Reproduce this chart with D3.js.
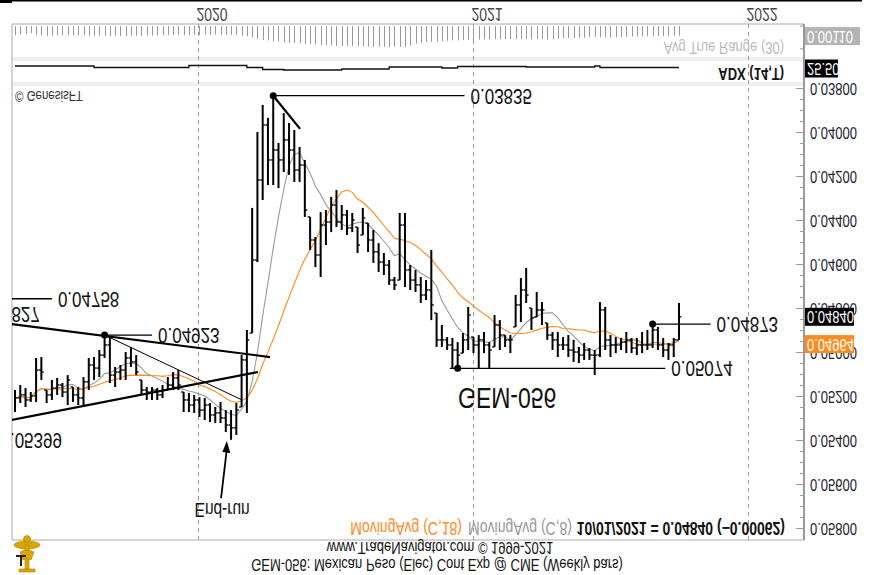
<!DOCTYPE html>
<html>
<head>
<meta charset="utf-8">
<script src="https://cdn.jsdelivr.net/npm/d3@7"></script>
<style>
  body { margin: 0; background: #fff; }
  svg { display: block; }
  text { font-family: "Liberation Sans", Arial, sans-serif; }
</style>
</head>
<body>
<svg id="chart" width="888" height="575"></svg>
<script>
// weekly bars, first bar dated Friday 2019-05-03
const firstWeek = new Date(2019, 4, 3).getTime();

// price axis is inverted (0.038 at top), picture is mirrored vertically
const low = [
  0.05173,0.05150,0.05164,0.05182,0.05027,0.05023,0.05173,0.05127,0.05118,0.05141,
  0.05105,0.05159,0.05159,0.05114,0.05027,0.05023,0.04991,0.04923,0.04936,0.05068,
  0.05059,0.05000,0.04977,0.05014,0.05127,0.05159,0.05159,0.05164,0.05150,0.05114,
  0.05091,0.05082,0.05182,0.05186,0.05195,0.05205,0.05209,0.05232,0.05250,0.05227,
  0.05264,0.05264,0.05232,0.05014,0.04900,0.04345,0.04000,0.03877,0.03936,0.03835,
  0.04050,0.03914,0.03959,0.03991,0.04068,0.04127,0.04386,0.04477,0.04364,0.04355,
  0.04295,0.04264,0.04332,0.04355,0.04368,0.04432,0.04345,0.04414,0.04445,0.04505,
  0.04550,0.04582,0.04659,0.04368,0.04368,0.04605,0.04627,0.04659,0.04673,0.04536,
  0.04823,0.04877,0.04932,0.04936,0.04955,0.04914,0.04795,0.04932,0.04923,0.04909,
  0.04955,0.04832,0.04855,0.04923,0.04923,0.04741,0.04664,0.04618,0.04800,0.04727,
  0.04773,0.04868,0.04909,0.04909,0.04932,0.04923,0.04945,0.04977,0.04959,0.04982,
  0.04991,0.04773,0.04795,0.04923,0.04932,0.04936,0.04909,0.04936,0.04936,0.04909,
  0.04900,0.04873,0.04886,0.04936,0.04959,0.04936,0.04777
];
const high = [
  0.05273,0.05232,0.05250,0.05227,0.05227,0.05127,0.05232,0.05218,0.05195,0.05205,
  0.05241,0.05227,0.05241,0.05241,0.05173,0.05127,0.05114,0.05027,0.05141,0.05159,
  0.05127,0.05127,0.05068,0.05105,0.05195,0.05218,0.05218,0.05218,0.05209,0.05173,
  0.05173,0.05173,0.05273,0.05273,0.05277,0.05295,0.05309,0.05318,0.05323,0.05323,
  0.05364,0.05399,0.05377,0.05250,0.05277,0.04914,0.04591,0.04309,0.04241,0.04241,
  0.04255,0.04182,0.04195,0.04227,0.04227,0.04386,0.04536,0.04614,0.04659,0.04514,
  0.04455,0.04432,0.04445,0.04468,0.04455,0.04550,0.04468,0.04545,0.04595,0.04636,
  0.04650,0.04695,0.04718,0.04673,0.04705,0.04718,0.04727,0.04777,0.04764,0.04855,
  0.04977,0.04977,0.04991,0.05074,0.05074,0.05005,0.04991,0.05005,0.05074,0.05005,
  0.05074,0.04977,0.04991,0.04977,0.05005,0.04886,0.04864,0.04777,0.04900,0.04841,
  0.04877,0.04945,0.04991,0.05023,0.04991,0.05023,0.05045,0.05050,0.05036,0.05036,
  0.05105,0.05023,0.04991,0.05023,0.05005,0.04991,0.05005,0.05005,0.05014,0.05005,
  0.04991,0.04982,0.04991,0.05023,0.05036,0.05023,0.04945
];
const close = [
  0.05209,0.05195,0.05218,0.05200,0.05082,0.05091,0.05195,0.05164,0.05150,0.05182,
  0.05127,0.05195,0.05209,0.05136,0.05059,0.05073,0.05014,0.04968,0.05105,0.05091,
  0.05082,0.05027,0.05045,0.05091,0.05173,0.05182,0.05173,0.05195,0.05173,0.05150,
  0.05118,0.05150,0.05218,0.05241,0.05218,0.05264,0.05241,0.05286,0.05277,0.05300,
  0.05332,0.05345,0.05264,0.05036,0.04945,0.04582,0.04218,0.03968,0.04127,0.04082,
  0.04127,0.04036,0.04082,0.04173,0.04150,0.04355,0.04491,0.04559,0.04423,0.04409,
  0.04332,0.04409,0.04377,0.04436,0.04400,0.04514,0.04391,0.04491,0.04545,0.04591,
  0.04605,0.04673,0.04695,0.04423,0.04627,0.04673,0.04695,0.04741,0.04718,0.04786,
  0.04945,0.04945,0.04968,0.04991,0.05014,0.04945,0.04832,0.04968,0.04945,0.04968,
  0.04991,0.04877,0.04923,0.04945,0.04945,0.04786,0.04718,0.04741,0.04845,0.04809,
  0.04809,0.04923,0.04945,0.04968,0.04968,0.04991,0.05000,0.05014,0.04991,0.05014,
  0.05014,0.04809,0.04945,0.04968,0.04968,0.04955,0.04945,0.04982,0.04968,0.04968,
  0.04968,0.04900,0.04968,0.04991,0.04968,0.04945,0.04840
];

const priceTicks = [0.038, 0.040, 0.042, 0.044, 0.046, 0.048, 0.050, 0.052, 0.054, 0.056, 0.058];
const yearTicks = [2020, 2021, 2022];

// ADX(14,T) as flat steps: week where each level starts, and level
const adxStart = [0, 15, 33, 44, 47, 51, 62, 71, 81, 84, 97, 110, 111, 126];
const adxValue = [23, 24.5, 22.5, 24.5, 26.5, 27, 26, 24, 25, 23.5, 24, 23, 24.5, 24.5];

const lastDate = "10/01/2021";
const lastChange = -0.00062;
const lastMa18 = 0.04964;
const lastAtr = 0.00110;
const lastAdx = 25.50;

// labelled price levels (week index, price)
const levels = [
  { from: -1, to: 7, dot: null, price: 0.04758 },
  { from: 17, to: 26, dot: 17, price: 0.04923 },
  { from: 49, to: 85.3, dot: 49, price: 0.03835 },
  { from: 82.5, to: 123.4, dot: 84, price: 0.05074 },
  { from: 121, to: 132, dot: 121, price: 0.04873 }
];
// labels whose line starts off the left edge
const edgeLabels = [
  { week: 4.7, price: 0.04827 },
  { week: 8.9, price: 0.05399 }
];
const trendLines = [
  { w1: -0.6, p1: 0.04873, w2: 48.4, p2: 0.05023, width: 2.2 },
  { w1: -0.6, p1: 0.05309, w2: 46.1, p2: 0.05091, width: 2.2 },
  { w1: 17, p1: 0.04923, w2: 43.1, p2: 0.05218, width: 1 },
  { w1: 49, p1: 0.03835, w2: 54.1, p2: 0.03986, width: 2.2 }
];
const arrow = { w1: 39.1, p1: 0.05664, w2: 40.2, p2: 0.05405 };

const stretch = 1.25;
const svg = d3.select("#chart");
const frame = { left: 12, right: 804, top: 24, bottom: 540 };

const weekDate = i => new Date(firstWeek + i * 7 * 86400000);
const x = d3.scaleTime().domain([weekDate(0), weekDate(126)]).range([15, 679]);
const xw = i => x(weekDate(i));
const y = d3.scaleLinear().domain([0.038, 0.058]).range([88, 528]);
const atrY = d3.scaleLinear().domain([0, 0.0035]).range([26, 58]);
const adxY = d3.scaleLinear().domain([20, 40]).range([63, 83]);
const fmt = d3.format(".5f");

function label(sel, px, py, str, size, anchor, fill, weight) {
  return sel.append("text")
    .attr("transform", `translate(${px},${py}) scale(1,${-stretch})`)
    .attr("text-anchor", anchor || "start")
    .attr("dominant-baseline", "central")
    .attr("font-size", size)
    .attr("fill", fill || "#111")
    .attr("font-weight", weight || "normal")
    .text(str);
}

// top black rule
svg.append("rect").attr("x", 0).attr("y", 0).attr("width", 862).attr("height", 1.5).attr("fill", "#000");
svg.append("rect").attr("x", 0).attr("y", 0).attr("width", 12).attr("height", 3).attr("fill", "#000");

// panel separators
svg.append("rect").attr("x", frame.left).attr("y", 57).attr("width", frame.right - frame.left).attr("height", 4).attr("fill", "#f0f0f0");
svg.append("rect").attr("x", frame.left).attr("y", 82).attr("width", frame.right - frame.left).attr("height", 4).attr("fill", "#f0f0f0");

// year grid
yearTicks.forEach(yr => {
  const gx = Math.round(x(new Date(yr, 0, 1))) + 0.5;
  svg.append("line").attr("x1", gx).attr("x2", gx).attr("y1", frame.top).attr("y2", frame.bottom)
    .attr("stroke", "#999").attr("stroke-dasharray", "4,4");
  label(svg, gx - 2, 14, String(yr), 14, "start", "#444");
});

// frame
svg.append("path")
  .attr("d", `M${frame.right},${frame.top}H${frame.left}V${frame.bottom}H${frame.right}`)
  .attr("fill", "none").attr("stroke", "#aaa");
svg.append("line").attr("x1", frame.right).attr("x2", frame.right).attr("y1", frame.top).attr("y2", frame.bottom)
  .attr("stroke", "#999").attr("stroke-width", 2);

// ATR(30) histogram
const trueRange = close.map((c, i) => {
  const pc = i ? close[i - 1] : c;
  return Math.max(high[i], pc) - Math.min(low[i], pc);
});
const atr = trueRange.map((_, i) => d3.mean(trueRange.slice(Math.max(0, i - 29), i + 1)));
svg.append("g").selectAll("line").data(atr).join("line")
  .attr("x1", (d, i) => Math.round(xw(i)) + 0.5).attr("x2", (d, i) => Math.round(xw(i)) + 0.5)
  .attr("y1", atrY(0)).attr("y2", d => atrY(d))
  .attr("stroke", "#999").attr("stroke-width", 1);
label(svg, 784, 48, "Avg True Range (30)", 13, "end", "#bbb");

// ADX line
const adxPts = adxStart.map((w, i) => [w, adxValue[i]]);
svg.append("path").datum(adxPts)
  .attr("d", d3.line().x(d => xw(d[0])).y(d => adxY(d[1])).curve(d3.curveStepAfter))
  .attr("fill", "none").attr("stroke", "#111").attr("stroke-width", 1.3);
label(svg, 784, 74, "ADX (14,T)", 13, "end", "#111", "bold");

// right axis
const axis = svg.append("g").attr("transform", `translate(${frame.right},0)`)
  .call(d3.axisRight(y).tickValues(priceTicks).tickSize(-8).tickSizeOuter(0).tickPadding(6).tickFormat(fmt));
axis.select(".domain").remove();
axis.selectAll("line").attr("stroke", "#999");
axis.selectAll("text")
  .attr("dy", null).attr("dominant-baseline", "central")
  .attr("transform", `scale(1,${-stretch})`)
  .attr("font-size", 13).attr("fill", "#223")
  .attr("font-family", "Liberation Sans, Arial, sans-serif");
const minor = svg.append("g").attr("transform", `translate(${frame.right},0)`)
  .call(d3.axisRight(y).tickValues(d3.range(0.038, 0.0581, 0.0005)).tickSize(-4).tickSizeOuter(0).tickFormat(""));
minor.select(".domain").remove();
minor.selectAll("line").attr("stroke", "#999");
[0, 0.0025].forEach(v => {
  svg.append("line").attr("x1", frame.right - 4).attr("x2", frame.right).attr("y1", atrY(v)).attr("y2", atrY(v)).attr("stroke", "#999");
});

// main price panel
svg.append("clipPath").attr("id", "mainClip").append("rect")
  .attr("x", frame.left).attr("y", 86).attr("width", frame.right - frame.left).attr("height", frame.bottom - 86);
const main = svg.append("g").attr("clip-path", "url(#mainClip)");

label(main, 15, 96, "\u00a9 GenesisFT", 11.5, "start", "#333");

// moving averages
const sma = n => close.map((_, i) => d3.mean(close.slice(Math.max(0, i - n + 1), i + 1)));
const ma8 = sma(8), ma18 = sma(18);
const maLine = d3.line().x((d, i) => xw(i)).y(d => y(d));
main.append("path").datum(ma8).attr("d", maLine).attr("fill", "none").attr("stroke", "#9a9a9a").attr("stroke-width", 1.1);
main.append("path").datum(ma18).attr("d", maLine).attr("fill", "none").attr("stroke", "#ff8a1e").attr("stroke-width", 1.1);

// trend lines
trendLines.forEach(t => {
  main.append("line")
    .attr("x1", xw(t.w1)).attr("y1", y(t.p1)).attr("x2", xw(t.w2)).attr("y2", y(t.p2))
    .attr("stroke", "#000").attr("stroke-width", t.width);
});

// OHLC bars
const idx = d3.range(close.length);
const bars = main.append("g").attr("stroke", "#000");
bars.selectAll("line.hl").data(idx).join("line").attr("class", "hl")
  .attr("x1", i => xw(i)).attr("x2", i => xw(i))
  .attr("y1", i => y(low[i])).attr("y2", i => y(high[i]))
  .attr("stroke-width", 2);
bars.selectAll("line.cl").data(idx).join("line").attr("class", "cl")
  .attr("x1", i => xw(i)).attr("x2", i => xw(i) + 2.5)
  .attr("y1", i => y(close[i])).attr("y2", i => y(close[i]))
  .attr("stroke-width", 1.3);
bars.selectAll("line.op").data(idx.slice(1)).join("line").attr("class", "op")
  .attr("x1", i => xw(i) - 2.5).attr("x2", i => xw(i))
  .attr("y1", i => y(Math.min(Math.max(close[i - 1], low[i]), high[i])))
  .attr("y2", i => y(Math.min(Math.max(close[i - 1], low[i]), high[i])))
  .attr("stroke-width", 1.3);

// labelled levels
levels.forEach(l => {
  main.append("line").attr("x1", xw(l.from)).attr("x2", xw(l.to)).attr("y1", y(l.price)).attr("y2", y(l.price))
    .attr("stroke", "#000").attr("stroke-width", 1.3);
  if (l.dot !== null) main.append("circle").attr("cx", xw(l.dot)).attr("cy", y(l.price)).attr("r", 3.5).attr("fill", "#000");
  label(main, xw(l.to) + 6, y(l.price), fmt(l.price), 17);
});
edgeLabels.forEach(l => label(main, xw(l.week), y(l.price), fmt(l.price), 17, "end"));

// End-run arrow
main.append("line").attr("x1", xw(arrow.w1)).attr("y1", y(arrow.p1)).attr("x2", xw(arrow.w2)).attr("y2", y(arrow.p2) + 8)
  .attr("stroke", "#000").attr("stroke-width", 1.8);
{
  const tx = xw(arrow.w2), ty = y(arrow.p2);
  main.append("path").attr("d", `M${tx},${ty}L${tx - 4.5},${ty + 11}L${tx + 3.5},${ty + 12}Z`).attr("fill", "#000");
}
label(main, xw(39.3), y(0.05718), "End-run", 15.5, "middle");
label(main, xw(93.4), y(0.05209), "GEM-056", 23, "middle");

// last value boxes
function valueBox(py, w, bg, str) {
  svg.append("rect").attr("x", frame.right + 1).attr("y", py - 9).attr("width", w).attr("height", 18).attr("fill", bg);
  label(svg, frame.right + 3, py, str, 13, "start", "#fff");
}
valueBox(atrY(lastAtr), 55, "#b4b4b4", fmt(lastAtr));
valueBox(adxY(lastAdx), 33, "#000", lastAdx.toFixed(2));
valueBox(y(close[close.length - 1]), 49, "#000", fmt(close[close.length - 1]));
valueBox(y(lastMa18), 49, "#ff8a1e", fmt(lastMa18));

// legend and footer
label(svg, 785, 528, `${lastDate} = ${fmt(close[close.length - 1])} (${fmt(lastChange)})`, 14, "end", "#111", "bold");
label(svg, 572, 528, "MovingAvg (C,8)", 14, "end", "#999");
label(svg, 462, 528, "MovingAvg (C,18)", 14, "end", "#ff8a1e");
label(svg, 440, 548, "www.TradeNavigator.com \u00a9 1999-2021", 13, "middle", "#111");
label(svg, 437, 565, "GEM-056: Mexican Peso (Elec) Cont Exp @ CME (Weekly bars)", 13, "middle", "#111");

// gold logo, bottom left
const logo = svg.append("g").attr("fill", "#d9a600").attr("stroke", "#b08000").attr("stroke-width", 0.6);
logo.append("ellipse").attr("cx", 27).attr("cy", 545).attr("rx", 13).attr("ry", 4);
logo.append("circle").attr("cx", 27).attr("cy", 539).attr("r", 3.5);
logo.append("rect").attr("x", 25).attr("y", 545).attr("width", 4).attr("height", 24);
logo.append("path").attr("d", "M20,552 Q27,548 34,552 L31,560 Q27,557 23,560 Z");
logo.append("rect").attr("x", 19).attr("y", 569).attr("width", 16).attr("height", 3);
svg.append("path").attr("d", "M16,556H26M21,556V566").attr("stroke", "#222").attr("stroke-width", 2).attr("fill", "none");
</script>
</body>
</html>
